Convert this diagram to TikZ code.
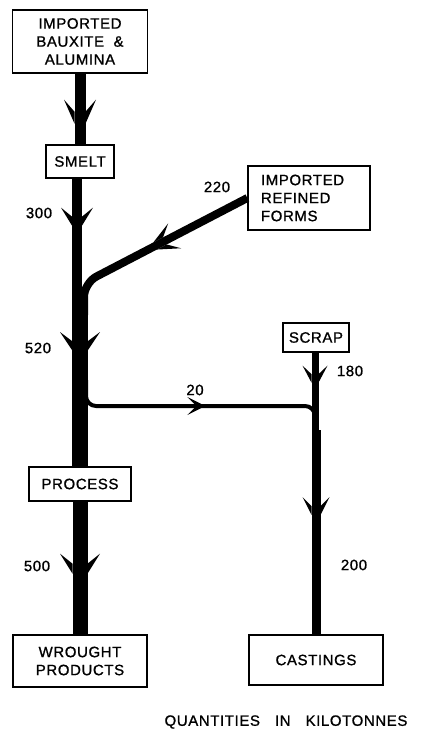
\documentclass[tikz,border=0pt]{standalone}
\usepackage{fontspec}
\setmainfont{Liberation Sans}[LetterSpace=4, FakeBold=1]
\usetikzlibrary{positioning, decorations.markings}
\newcommand{\flowfont}{\fontsize{15}{18}\selectfont}

\begin{document}
\begin{tikzpicture}[
    x=1pt, y=-1pt,
    unit/.style={rectangle, draw, line width=1.3pt, fill=white, align=center, inner sep=2pt, font=\flowfont},
    qty/.style={font=\flowfont},
    stream/.style={line width=#1, line cap=butt},
    barb/.style n args={4}{postaction={decorate, decoration={markings, mark=at position #1 with {\fill[sharp corners] (-#2,#3) -- (0,#4) -- (-0.5*#2,#4) -- cycle (-#2,-#3) -- (0,-#4) -- (-0.5*#2,-#4) -- cycle;}}}}
]
\useasboundingbox (0,0) rectangle (421,733);

\node[unit, minimum width=135pt, minimum height=63pt] (bauxite) at (80,41.5) {IMPORTED\\BAUXITE\ \ \&\\ALUMINA};
\node[unit, minimum width=68pt, minimum height=33pt] (smelt) at (80,161.5) {SMELT};
\node[unit, minimum width=122pt, minimum height=64pt, text width=96pt, align=left] (refined) at (309,198) {IMPORTED\\REFINED\\FORMS};
\node[unit, minimum width=66pt, minimum height=29pt] (scrap) at (316,337.5) {SCRAP};
\node[unit, minimum width=102pt, minimum height=34pt] (process) at (80,484) {PROCESS};
\node[unit, minimum width=134pt, minimum height=52pt] (wrought) at (80,661) {WROUGHT\\PRODUCTS};
\node[unit, minimum width=134pt, minimum height=50pt] (castings) at (316,660) {CASTINGS};
\node[qty] (note) at (286,722) {QUANTITIES\quad IN\quad KILOTONNES};

\coordinate (join) at (80,300);
\coordinate (kink) at (84,283);
\coordinate (merge) at (84,315);
\coordinate (split) at (86,380);
\coordinate (turn1) at (86,406);
\coordinate (turn2) at (315,406);
\coordinate (meet) at (316,430);

\draw[stream=11pt, barb={50pt}{24}{16}{5.5}] (bauxite) -- (smelt);
\draw[stream=10pt, barb={47pt}{18}{16}{5}] ([xshift=-3pt]smelt.south) -- ([xshift=-3pt]join);
\draw[stream=8pt, rounded corners=14pt, barb={104pt}{22}{14}{4}] (refined.west) -- (kink) -- (merge);
\draw[stream=16pt, barb={50pt}{18}{20}{8}] (join) -- (process);
\draw[stream=15pt, barb={72pt}{20}{20}{7.5}] (process) -- (wrought);
\draw[stream=4pt, rounded corners=10pt, barb={137pt}{14}{9}{2}] (split) -- (turn1) -- (turn2) -- ([xshift=-1pt]meet);
\draw[stream=7pt, barb={30pt}{17}{12.5}{3.5}] ([xshift=-1pt]scrap.south) -- ([xshift=-1pt]meet);
\draw[stream=9pt, barb={85pt}{18}{13.5}{4.5}] (meet) -- (castings);

\node[qty] (q300) at (39,213) {300};
\node[qty] (q220) at (217,187) {220};
\node[qty] (q520) at (38,348) {520};
\node[qty] (q20) at (195,390) {20};
\node[qty] (q180) at (350,371) {180};
\node[qty] (q500) at (37,566) {500};
\node[qty] (q200) at (354,565) {200};
\end{tikzpicture}
\end{document}
